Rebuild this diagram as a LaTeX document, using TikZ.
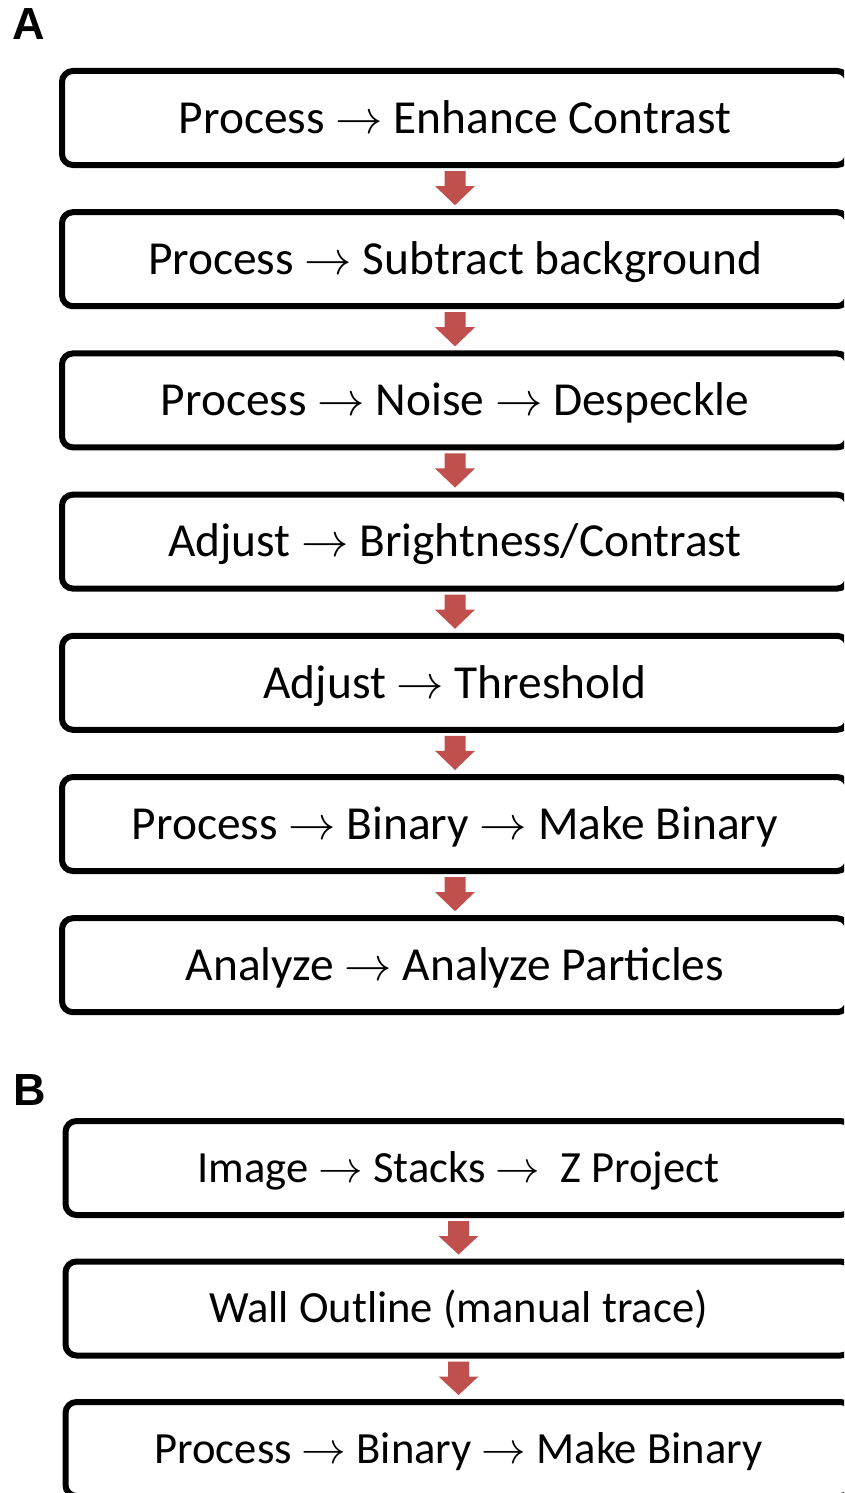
\documentclass[tikz,border=0pt]{standalone}
\usepackage{fix-cm}
\usepackage{fontspec}
\setmainfont{Carlito}
\newfontfamily\labfont{Liberation Sans}
\definecolor{arrowred}{HTML}{C0504D}
\tikzset{
  stepbox/.style={draw=black, line width=6pt, rounded corners=11pt, rectangle,
    minimum width=786pt, minimum height=94pt, inner sep=0pt,
    text height=30.5pt, text depth=0pt,
    font=\fontsize{47.4}{50}\selectfont},
  smallstep/.style={stepbox, text height=28.7pt,
    font=\fontsize{44.6}{48}\selectfont},
  panellabel/.style={inner sep=0pt, anchor=base west,
    font=\labfont\bfseries\fontsize{45}{50}\selectfont},
}
\newcommand\flowarr[2]{%
  \fill[arrowred] ([xshift=-10.5pt,yshift=-3pt]#1.south) -- ([xshift=10.5pt,yshift=-3pt]#1.south)
    -- ([xshift=10.5pt,yshift=-18pt]#1.south) -- ([xshift=20pt,yshift=-18pt]#1.south)
    -- ([yshift=4pt]#2.north) -- ([xshift=-20pt,yshift=-18pt]#1.south)
    -- ([xshift=-10.5pt,yshift=-18pt]#1.south) -- cycle;}
\newcommand\ra{$\rightarrow$}
\begin{document}
\begin{tikzpicture}[x=1pt,y=-1pt]
\useasboundingbox (0,0) rectangle (844,1493);
\clip (0,0) rectangle (844,1493);
\fill[white] (0,0) rectangle (844,1493);
\node[panellabel] (labA) at (12,40) {A};
\node[panellabel] (labB) at (13,1105) {B};

\node[stepbox] (a1) at (455,118) {Process \ra{} Enhance Contrast};
\node[stepbox] (a2) at (455,259.2) {Process \ra{} Subtract background};
\node[stepbox] (a3) at (455,400.4) {Process \ra{} Noise \ra{} Despeckle};
\node[stepbox] (a4) at (455,541.6) {Adjust \ra{} Brightness/Contrast};
\node[stepbox] (a5) at (455,682.8) {Adjust \ra{} Threshold};
\node[stepbox] (a6) at (455,824) {Process \ra{} Binary \ra{} Make Binary};
\node[stepbox] (a7) at (455,965.2) {Analyze \ra{} Analyze Particles};

\node[smallstep] (b1) at (458.5,1168) {Image \ra{} Stacks \ra{}~~Z Project};
\node[smallstep] (b2) at (458.5,1308.5) {Wall Outline (manual trace)};
\node[smallstep] (b3) at (458.5,1449) {Process \ra{} Binary \ra{} Make Binary};

\flowarr{a1}{a2}
\flowarr{a2}{a3}
\flowarr{a3}{a4}
\flowarr{a4}{a5}
\flowarr{a5}{a6}
\flowarr{a6}{a7}
\flowarr{b1}{b2}
\flowarr{b2}{b3}
\end{tikzpicture}
\end{document}
